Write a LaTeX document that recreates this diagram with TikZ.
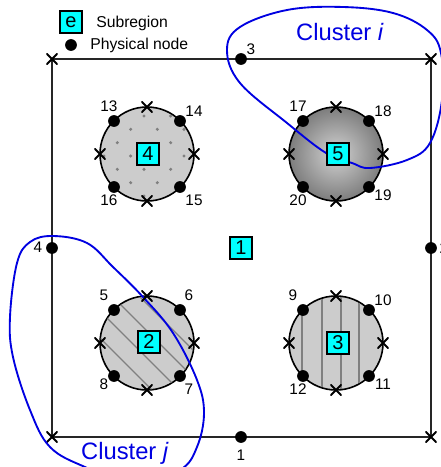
\documentclass[tikz,border=0pt]{standalone}
\usepackage{fontspec}
\setmainfont{Liberation Sans}
\definecolor{boxcyan}{RGB}{0,255,255}
\definecolor{clusterblue}{RGB}{0,0,225}
\definecolor{discgray}{RGB}{204,204,204}
\definecolor{hatchgray}{RGB}{128,128,128}
\definecolor{shadein}{RGB}{210,210,210}
\definecolor{shadeout}{RGB}{125,125,125}
\tikzset{
  x=0.75pt,y=-0.75pt,
  region/.style={draw=black,line width=1.3pt,fill=boxcyan,minimum size=17pt,inner sep=0pt,font=\fontsize{15}{16}\selectfont},
  dotnode/.style={circle,fill=black,minimum size=8.8pt,inner sep=0pt},
  num/.style={font=\fontsize{11.5}{13}\selectfont,inner sep=0pt},
  xmark/.style={minimum size=8.6pt,inner sep=0pt,path picture={\draw[line width=1.4pt] (path picture bounding box.south west) -- (path picture bounding box.north east) (path picture bounding box.north west) -- (path picture bounding box.south east);}},
  disc/.style={circle,draw=black,line width=1.2pt,minimum size=70.5pt,inner sep=0pt},
  hatch/.style={draw=hatchgray,line width=1pt},
  cluster/.style={draw=clusterblue,line width=1.4pt},
  clusterlabel/.style={text=clusterblue,font=\fontsize{17.8}{20}\selectfont,inner sep=0pt},
  legendtext/.style={font=\fontsize{11.8}{14}\selectfont,inner sep=0pt,anchor=west},
}
\begin{document}
\begin{tikzpicture}
\useasboundingbox (0,0) rectangle (441,467);
\clip (0,0) rectangle (441,467);
% outer square
\coordinate (tl) at (52,59); \coordinate (tr) at (431,59);
\coordinate (br) at (431,437); \coordinate (bl) at (52,437);
\draw[line width=1.3pt,draw=black!85] (tl) -- (tr) -- (br) -- (bl) -- cycle;
\foreach \c in {tl,tr,br,bl} \node[xmark] at (\c) {};
\node[dotnode] (n1) at (241,437) {};
\node[dotnode] (n2) at (431,248) {};
\node[dotnode] (n3) at (241,59) {};
\node[dotnode] (n4) at (52,248) {};
\node[num] at (241,455) {1};
\node[num] at (444,248) {2};
\node[num] at (251,49) {3};
\node[num] at (38,247) {4};
% discs
\node[disc,fill=discgray] (c4) at (147,154) {};
\node[disc,inner color=shadein,outer color=shadeout] (c5) at (336,154) {};
\node[disc,fill=discgray] (c2) at (147,343) {};
\node[disc,fill=discgray] (c3) at (336,343) {};
% patterns
\foreach \zx/\zy in {147/48,227/48,107/88,187/88,267/88,67/128,227/128,107/168,267/168,67/208,147/208,227/208,107/248,187/248,27/168,147/288}
  \fill[hatchgray] ({95+\zx/3},{100+\zy/3}) circle (1.7);
\foreach \xx in {302,322,341,359}
  \draw[hatch] (\xx,{343-sqrt(46.5*46.5-(\xx-336)*(\xx-336))}) -- (\xx,{343+sqrt(46.5*46.5-(\xx-336)*(\xx-336))});
\begin{scope}
\clip (147,343) circle (46.5);
\foreach \o in {-39,-12,15,42}
  \draw[hatch] (147-60,343-60+\o) -- (147+60,343+60+\o);
\end{scope}
% clusters
\draw[cluster] plot[smooth cycle,tension=0.62] coordinates {
 (326,153) (287,123) (240,83) (227,50) (240,27) (287,10) (343,7) (393,13) (427,30) (441,53) (442,100) (430,143) (407,160) (370,168) (352,163)};
\draw[cluster] plot[smooth cycle,tension=0.62] coordinates {
 (53,236) (87,243) (113,267) (143,297) (173,333) (197,380) (204,413) (197,447) (180,470) (135,485) (85,467) (50,447) (30,410) (13,357) (10,317) (17,263) (30,242)};
% subregion boxes
\node[region] (r1) at (241,248) {1};
\node[region] (r2) at (149,342) {2};
\node[region] (r3) at (338,343) {3};
\node[region] (r4) at (148,154) {4};
\node[region] (r5) at (338,154) {5};
% disc nodes
\foreach \cx/\cy/\a/\b/\c/\d in {147/154/13/14/15/16,336/154/17/18/19/20,147/343/5/6/7/8,336/343/9/10/11/12}{
  \node[dotnode] (n\a) at (\cx-33,\cy-33) {};
  \node[dotnode] (n\b) at (\cx+33,\cy-33) {};
  \node[dotnode] (n\c) at (\cx+33,\cy+33) {};
  \node[dotnode] (n\d) at (\cx-33,\cy+33) {};
  \node[xmark] at (\cx,\cy-47) {};
  \node[xmark] at (\cx,\cy+47) {};
  \node[xmark] at (\cx-47,\cy) {};
  \node[xmark] at (\cx+47,\cy) {};
}
\foreach \t/\x/\y in {13/109/106,14/194/111,15/194/200,16/109/200,17/298/106,18/383/111,19/383/195,20/298/200,5/104/295,6/189/295,7/189/389,8/104/384,9/293/295,10/383/300,11/383/384,12/298/389}
  \node[num] at (\x,\y) {\t};
% legend
\node[region] (le) at (71,22) {e};
\node[dotnode] (ld) at (71,45) {};
\node[legendtext] at (96,23) {Subregion};
\node[legendtext] at (90,45) {Physical node};
\node[clusterlabel] at (340,32) {Cluster \textit{i}};
\node[clusterlabel] at (125,453) {Cluster \textit{j}};
\end{tikzpicture}
\end{document}
